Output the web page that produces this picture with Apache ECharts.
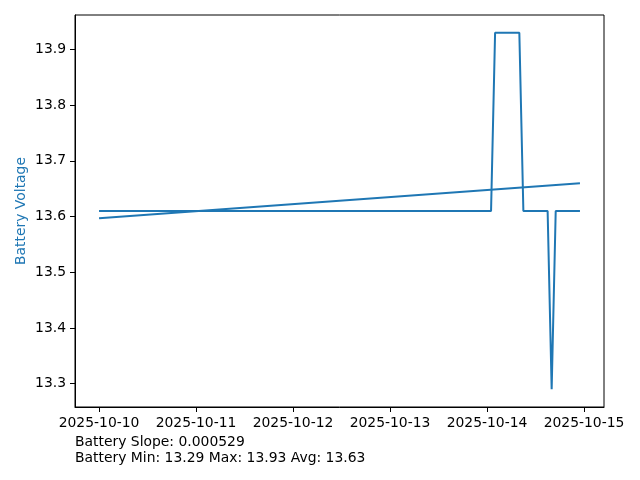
<!DOCTYPE html>
<html>
<head>
<meta charset="utf-8">
<script src="https://cdn.jsdelivr.net/npm/echarts@6/dist/echarts.min.js"></script>
<style>
html,body{margin:0;padding:0;background:#fff;}
#chart{width:640px;height:480px;}
</style>
</head>
<body>
<div id="chart"></div>
<script>
// Hours since 2025-10-10 00:00
const batteryHours = [0, 97, 98, 104, 105, 111, 112, 113, 119];
const batteryVolts = [13.61, 13.61, 13.93, 13.93, 13.61, 13.61, 13.29, 13.61, 13.61];
const trendHours = [0, 119];
const trendVolts = [13.597, 13.660];
const xTickHours = [0, 24, 48, 72, 96, 120];
const xTickLabels = ['2025-10-10', '2025-10-11', '2025-10-12', '2025-10-13', '2025-10-14', '2025-10-15'];
const yTicks = [13.3, 13.4, 13.5, 13.6, 13.7, 13.8, 13.9];
const statsLines = ['Battery Slope: 0.000529', 'Battery Min: 13.29 Max: 13.93 Avg: 13.63'];

const FONT = 'DejaVu Sans';
const FS = 13.9;
const BLUE = '#1f77b4';

const chart = echarts.init(document.getElementById('chart'), null, {renderer: 'canvas'});
const option = {
  animation: false,
  backgroundColor: '#fff',
  textStyle: {fontFamily: FONT},
  grid: {left: 75, right: 36, top: 15, bottom: 73, show: true, borderColor: '#000', borderWidth: 1, containLabel: false},
  xAxis: {
    type: 'value',
    min: -5.95,
    max: 124.95,
    axisLine: {show: true, onZero: false, lineStyle: {color: '#000', width: 1}},
    axisTick: {show: true, length: 5, customValues: xTickHours, lineStyle: {color: '#000', width: 1}},
    axisLabel: {
      customValues: xTickHours,
      margin: 9,
      color: '#000',
      fontFamily: FONT,
      fontSize: FS,
      formatter: function (v) {
        const i = xTickHours.indexOf(Math.round(v));
        return i >= 0 ? xTickLabels[i] : '';
      }
    },
    splitLine: {show: false}
  },
  yAxis: {
    type: 'value',
    min: 13.258,
    max: 13.962,
    name: 'Battery Voltage',
    nameLocation: 'middle',
    nameGap: 47,
    nameRotate: 90,
    nameMoveOverlap: false,
    nameTextStyle: {color: BLUE, fontFamily: FONT, fontSize: FS},
    axisLine: {show: true, onZero: false, lineStyle: {color: '#000', width: 1}},
    axisTick: {show: true, length: 5, customValues: yTicks, lineStyle: {color: '#000', width: 1}},
    axisLabel: {
      customValues: yTicks,
      margin: 9,
      color: '#000',
      fontFamily: FONT,
      fontSize: FS,
      formatter: function (v) { return v.toFixed(1); }
    },
    splitLine: {show: false}
  },
  series: [
    {
      type: 'line',
      data: batteryHours.map((h, i) => [h, batteryVolts[i]]),
      showSymbol: false,
      lineStyle: {color: BLUE, width: 2},
      itemStyle: {color: BLUE}
    },
    {
      type: 'line',
      data: trendHours.map((h, i) => [h, trendVolts[i]]),
      showSymbol: false,
      lineStyle: {color: BLUE, width: 2},
      itemStyle: {color: BLUE}
    }
  ],
  graphic: statsLines.map((t, i) => ({
    type: 'text',
    left: 75,
    top: 435 + i * 16,
    style: {text: t, fill: '#000', font: FS + 'px "' + FONT + '"'}
  }))
};
chart.setOption(option);
</script>
</body>
</html>
